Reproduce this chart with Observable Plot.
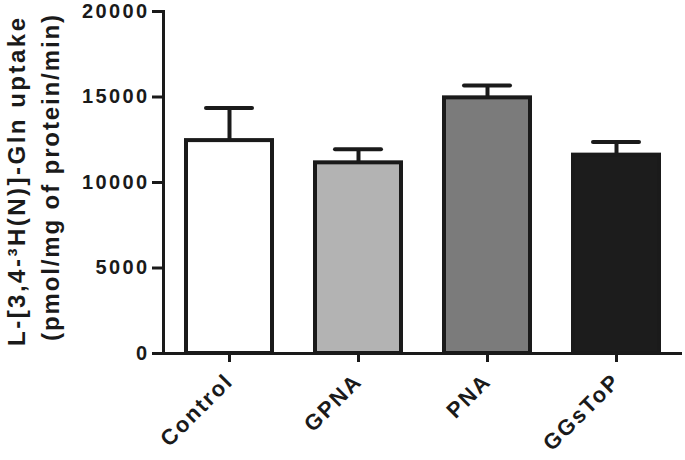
<!DOCTYPE html>
<html>
<head>
<meta charset="utf-8">
<script src="https://cdn.jsdelivr.net/npm/d3@7"></script>
<script src="https://cdn.jsdelivr.net/npm/@observablehq/plot@0.6"></script>
<style>
  html, body { margin: 0; padding: 0; background: #fff; }
  #chart svg { display: block; }
</style>
</head>
<body>
<div id="chart"></div>
<script>
const categories = ["Control", "GPNA", "PNA", "GGsToP"];
const means = [12450, 11150, 14950, 11600];
const sems = [1900, 800, 720, 770];
const fills = ["#ffffff", "#b3b3b3", "#7b7b7b", "#1c1c1c"];
const yTicks = [0, 5000, 10000, 15000, 20000];
const yTitle = ["L-[3,4-³H(N)]-Gln uptake", "(pmol/mg of protein/min)"];

const data = categories.map((c, i) => ({cat: c, mean: means[i], upper: means[i] + sems[i], fill: fills[i]}));
const ink = "#1a1a1a";
const font = "'Liberation Sans', Arial, Helvetica, sans-serif";

const chart = Plot.plot({
  width: 685,
  height: 460,
  marginLeft: 163,
  marginRight: 3,
  marginTop: 11,
  marginBottom: 107,
  style: {fontFamily: font, fontWeight: "bold", fontSize: "20px", color: ink, background: "#fff"},
  x: {domain: categories, paddingInner: 0.315, paddingOuter: 0.157, label: null},
  y: {domain: [0, 20000], label: null},
  marks: [
    Plot.ruleX(data, {x: "cat", y1: "mean", y2: "upper", stroke: ink, strokeWidth: 4}),
    Plot.tickY(data, {x: "cat", y: "upper", stroke: ink, strokeWidth: 4, strokeLinecap: "round", insetLeft: 21, insetRight: 21}),
    Plot.barY(data, {x: "cat", y: "mean", fill: "fill", stroke: ink, strokeWidth: 4, insetLeft: 1, insetRight: 1}),
    Plot.axisY({ticks: yTicks, tickSize: 11, tickPadding: 3, tickFormat: d => String(d), stroke: ink, strokeWidth: 3, fontSize: 20, label: null}),
    Plot.axisX({tickSize: 9, tickPadding: 15, tickRotate: -45, stroke: ink, strokeWidth: 3, fontSize: 22, label: null}),
    Plot.frame({anchor: "left", stroke: ink, strokeWidth: 3}),
    Plot.ruleY([0], {stroke: ink, strokeWidth: 3})
  ]
});

const svg = d3.select(chart);
svg.selectAll('[aria-label="y-axis tick label"] text').style("letter-spacing", "2.4px");
svg.selectAll('[aria-label="x-axis tick label"] text').style("letter-spacing", "2px");

// two-line rotated y-axis title
const titlePos = [{x: 25, y: 182, len: 328}, {x: 59, y: 178, len: 326}];
yTitle.forEach((line, i) => {
  svg.append("text")
    .attr("transform", `translate(${titlePos[i].x},${titlePos[i].y}) rotate(-90)`)
    .attr("text-anchor", "middle")
    .attr("font-family", font)
    .attr("font-weight", "bold")
    .attr("font-size", 24)
    .attr("fill", ink)
    .attr("textLength", titlePos[i].len)
    .attr("lengthAdjust", "spacing")
    .text(line);
});

document.getElementById("chart").appendChild(chart);
</script>
</body>
</html>
